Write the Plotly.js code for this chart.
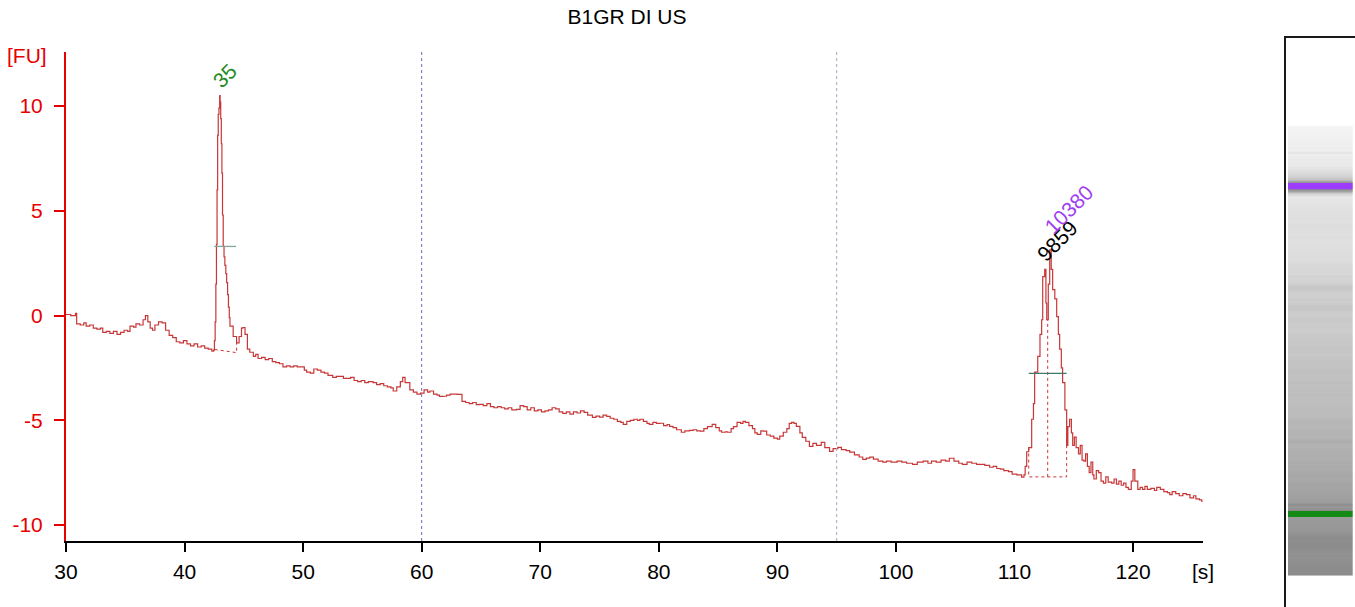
<!DOCTYPE html>
<html>
<head>
<meta charset="utf-8">
<script src="https://cdn.plot.ly/plotly-3.0.1.min.js"></script>
<style>
  html, body { margin: 0; padding: 0; background: #fff; }
  #plot { width: 1355px; height: 607px; }
</style>
</head>
<body>
<div id="plot"></div>
<script>
// Electropherogram trace: migration time [s] and fluorescence [FU].
const times = [
    30.0, 30.4, 30.8, 30.9, 31.2, 31.5, 31.7, 32.0, 32.3, 32.6, 32.9, 33.1, 33.4, 33.7, 34.0, 34.3,
    34.6, 34.9, 35.2, 35.4, 35.7, 35.9, 36.2, 36.5, 36.7, 36.9, 37.1, 37.3, 37.5, 37.8, 38.1, 38.4,
    38.7, 39.0, 39.3, 39.6, 39.9, 40.2, 40.5, 40.8, 41.1, 41.4, 41.7, 42.0, 42.3, 42.45,
    42.52, 42.58, 42.64, 42.69, 42.74, 42.79, 42.84, 42.9, 42.96, 43.0, 43.05, 43.1, 43.15, 43.2,
    43.26, 43.33, 43.4, 43.48, 43.55, 43.63, 43.7, 43.77, 43.83, 44.1, 44.39, 44.6, 44.8,
    44.92, 45.1, 45.3, 45.5, 45.8, 46.0, 46.2, 46.5, 46.8, 47.1, 47.4, 47.7, 48.0, 48.3, 48.6,
    48.9, 49.2, 49.5, 49.8, 50.1, 50.3, 50.6, 50.9, 51.2, 51.5, 51.8, 52.1, 52.5, 52.8, 53.1,
    53.4, 53.7, 54.0, 54.3, 54.6, 54.9, 55.2, 55.5, 55.9, 56.2, 56.5, 56.8, 57.1, 57.4, 57.6,
    57.9, 58.2, 58.4, 58.6, 59.0, 59.3, 59.6, 59.9, 60.2, 60.5, 60.7, 61.0, 61.3, 61.5, 61.8,
    62.1, 62.4, 62.7, 63.0, 63.4, 63.7, 64.0, 64.3, 64.6, 64.9, 65.2, 65.5, 65.8, 66.1, 66.4,
    66.7, 67.0, 67.3, 67.6, 68.0, 68.3, 68.6, 68.9, 69.2, 69.5, 69.8, 70.1, 70.4, 70.7, 71.0,
    71.3, 71.6, 71.9, 72.2, 72.5, 72.8, 73.1, 73.4, 73.7, 74.0, 74.4, 74.7, 75.0, 75.3, 75.6,
    75.9, 76.2, 76.5, 76.8, 77.0, 77.3, 77.6, 77.9, 78.2, 78.4, 78.7, 79.0, 79.2, 79.5, 79.8,
    80.1, 80.4, 80.7, 80.9, 81.2, 81.5, 81.9, 82.2, 82.6, 82.9, 83.2, 83.5, 83.8, 84.1, 84.5,
    84.8, 85.1, 85.3, 85.6, 85.8, 86.1, 86.3, 86.6, 86.9, 87.1, 87.3, 87.6, 87.9, 88.1, 88.3,
    88.6, 88.8, 89.1, 89.4, 89.7, 90.0, 90.2, 90.5, 90.8, 91.0, 91.2, 91.4, 91.6, 91.9, 92.1,
    92.4, 92.7, 93.0, 93.3, 93.7, 94.0, 94.4, 94.7, 95.1, 95.4, 95.8, 96.1, 96.5, 96.9, 97.2,
    97.5, 97.8, 98.1, 98.5, 98.9, 99.2, 99.6, 100.1, 100.5, 100.9, 101.4, 101.8, 102.3, 102.7,
    103.0, 103.4, 103.8, 104.2, 104.5, 104.9, 105.3, 105.6, 106.0, 106.4, 106.8, 107.1, 107.5,
    107.9, 108.2, 108.5, 108.8, 109.1, 109.5, 109.8, 110.2, 110.6, 110.8, 110.9,
    111.03, 111.2, 111.45, 111.6, 111.7, 111.96, 112.15, 112.29, 112.38, 112.55, 112.65, 112.72,
    112.85, 112.97, 113.1, 113.22, 113.4, 113.56, 113.7, 113.81, 113.95, 114.06, 114.25, 114.4,
    114.5, 114.65, 114.8, 114.91, 115.05, 115.2, 115.4, 115.55, 115.7, 115.85, 116.0, 116.15,
    116.3, 116.45, 116.6, 116.7, 116.9, 117.1, 117.3, 117.5, 117.7, 117.9, 118.2, 118.4, 118.6,
    118.8, 119.0, 119.2, 119.4, 119.6, 119.85, 120.0, 120.15, 120.4, 120.6, 120.8, 121.0, 121.2,
    121.5, 121.8, 122.0, 122.3, 122.6, 122.9, 123.1, 123.3, 123.6, 123.9, 124.2, 124.5, 124.8,
    125.1, 125.3, 125.6, 125.8,
];
const fluorescence = [
    0.05, 0.0, 0.1, -0.4, -0.45, -0.35, -0.5, -0.45, -0.6, -0.65, -0.6, -0.8, -0.75, -0.85, -0.75, -0.9,
    -0.8, -0.7, -0.75, -0.5, -0.55, -0.4, -0.45, -0.2, 0.0, -0.3, -0.6, -0.7, -0.45, -0.3, -0.35, -0.7,
    -0.95, -1.05, -1.25, -1.3, -1.2, -1.35, -1.45, -1.35, -1.5, -1.45, -1.55, -1.6, -1.7, -1.65,
    -1.2, -0.3, 1.5, 3.4, 6.0, 8.6, 9.6, 9.9, 10.5, 10.2, 9.4, 8.2, 6.8, 4.8,
    3.3, 2.8, 2.4, 2.0, 1.57, 1.0, 0.4, -0.1, -0.5, -1.0, -1.3, -1.0, -0.6,
    -0.57, -0.9, -1.6, -1.75, -1.95, -1.85, -2.05, -2.0, -2.1, -2.05, -2.2, -2.25, -2.3, -2.45, -2.4,
    -2.45, -2.4, -2.45, -2.45, -2.6, -2.7, -2.75, -2.55, -2.6, -2.7, -2.75, -2.85, -2.95, -2.9, -2.9,
    -3.0, -3.0, -2.95, -3.1, -3.15, -3.1, -3.2, -3.15, -3.2, -3.3, -3.25, -3.35, -3.4, -3.45, -3.6,
    -3.4, -3.15, -2.95, -3.2, -3.55, -3.65, -3.75, -3.7, -3.55, -3.65, -3.6, -3.75, -3.8, -3.86, -3.85,
    -3.8, -3.75, -3.75, -3.76, -4.1, -4.15, -4.2, -4.15, -4.25, -4.24, -4.3, -4.2, -4.35, -4.4, -4.35,
    -4.4, -4.45, -4.4, -4.5, -4.48, -4.3, -4.35, -4.5, -4.4, -4.55, -4.5, -4.6, -4.55, -4.5, -4.4,
    -4.45, -4.6, -4.67, -4.6, -4.7, -4.6, -4.65, -4.55, -4.62, -4.75, -4.86, -4.8, -4.85, -4.75, -4.81,
    -4.9, -4.95, -5.05, -5.1, -5.19, -5.05, -5.0, -4.95, -5.0, -4.95, -5.05, -5.15, -5.19, -5.1, -5.15,
    -5.14, -5.25, -5.2, -5.29, -5.35, -5.45, -5.57, -5.5, -5.48, -5.45, -5.5, -5.52, -5.4, -5.3, -5.19,
    -5.35, -5.5, -5.57, -5.55, -5.57, -5.4, -5.3, -5.1, -5.15, -5.05, -5.1, -5.25, -5.4, -5.6, -5.67,
    -5.5, -5.52, -5.7, -5.75, -5.85, -5.9, -5.75, -5.57, -5.4, -5.15, -5.1, -5.15, -5.29, -5.6, -5.81,
    -6.0, -6.24, -6.1, -6.2, -6.05, -6.3, -6.48, -6.35, -6.29, -6.4, -6.45, -6.52, -6.65, -6.75, -6.86,
    -6.8, -6.76, -6.85, -6.95, -7.0, -6.95, -7.0, -6.95, -7.0, -7.05, -7.1, -7.0, -6.95, -7.05,
    -6.95, -7.0, -6.9, -6.95, -6.81, -6.95, -7.05, -7.1, -7.0, -7.05, -7.1, -7.1, -7.15,
    -7.24, -7.2, -7.3, -7.33, -7.4, -7.45, -7.57, -7.6, -7.71, -7.6, -7.2,
    -6.5, -6.3, -4.95, -4.2, -2.7, -1.95, -0.9, -0.2, 1.86, 2.2, 0.6, -0.2,
    1.5, 3.14, 2.2, 1.24, 0.8, -0.05, -0.9, -1.6, -2.5, -3.2, -4.5, -6.2,
    -5.3, -4.95, -5.6, -6.2, -5.8, -6.3, -6.6, -6.2, -6.9, -6.95, -6.6, -7.2,
    -7.5, -7.0, -7.6, -7.8, -7.4, -7.5, -7.9, -8.0, -7.7, -7.95, -8.0, -7.8, -8.05,
    -7.9, -8.1, -8.0, -8.2, -8.3, -7.9, -7.35, -7.9, -8.3, -8.2, -8.3, -8.15, -8.3,
    -8.25, -8.35, -8.2, -8.3, -8.4, -8.45, -8.55, -8.4, -8.5, -8.6, -8.5, -8.55, -8.7,
    -8.6, -8.75, -8.8, -8.9,
];

// Peaks: lower marker (35) and upper marker (10380) with the 9859 call.
const peakTimes = [42.98, 112.97];
const peakHeights = [10.5, 3.14];
const peakStart = [42.5, 111.2];
const peakEnd = [44.35, 114.4];
const peakHalfLevel = [3.3, -2.76];

// Dotted baselines under the peaks.
const leftBaseX = [42.55, 44.39, 44.39];
const leftBaseY = [-1.62, -1.77, -1.3];
const rightBaseX = [111.2, 111.2, 114.4, 114.4, null, 112.8, 112.8];
const rightBaseY = [-6.3, -7.7, -7.7, -5.0, null, -7.7, -0.2];

const xTicks = [30, 40, 50, 60, 70, 80, 90, 100, 110, 120];
const yTicks = [-10, -5, 0, 5, 10];
const yTickText = ['-10', '-5', '0', '5', '10'];
const markerLines = [60, 95];

const red = '#e60000';
const traceRed = '#c83737';
const fontFamily = '"Liberation Sans", Arial, sans-serif';

// Pixel frame of the reference, turned into paper fractions.
const W = 1355, H = 607;
const px = v => v / W;
const py = v => 1 - v / H;

const data = [
    {
        type: 'scatter', mode: 'lines', x: times, y: fluorescence,
        line: { color: traceRed, width: 1.2, shape: 'hv' },
        hoverinfo: 'x+y',
    },
    {
        type: 'scatter', mode: 'lines', x: leftBaseX, y: leftBaseY,
        line: { color: traceRed, width: 1, dash: 'dot' }, hoverinfo: 'skip',
    },
    {
        type: 'scatter', mode: 'lines', x: rightBaseX, y: rightBaseY,
        line: { color: traceRed, width: 1, dash: 'dot' }, hoverinfo: 'skip', connectgaps: false,
    },
    ...peakStart.map((start, i) => ({
        type: 'scatter', mode: 'lines',
        x: [start, peakEnd[i]], y: [peakHalfLevel[i], peakHalfLevel[i]],
        line: { color: i === 0 ? '#7fa89a' : '#3d7a6a', width: 1.3 }, hoverinfo: 'skip',
    })),
    // Gel lane, shaded from the same trace.
    {
        type: 'heatmap', x: [0], y: times, z: fluorescence.map(v => [v]),
        xaxis: 'x2', yaxis: 'y2', zmin: -9, zmax: -0.4, showscale: false, hoverinfo: 'skip',
        colorscale: [[0, 'rgb(248,248,248)'], [1, 'rgb(140,140,140)']],
    },
];

const shapes = [
    ...markerLines.map((x, i) => ({
        type: 'line', xref: 'x', yref: 'y domain', x0: x, x1: x, y0: 0, y1: 1,
        line: { color: i === 0 ? '#6a6ab8' : '#aaa6c4', width: 1, dash: 'dot' },
    })),
    // Gel bands for the two markers.
    ...peakTimes.map((t, i) => ({
        type: 'rect', xref: 'x2', yref: 'y2', x0: -0.5, x1: 0.5, y0: t - 0.65, y1: t + 0.65,
        line: { width: 0 }, fillcolor: i === 0 ? '#138a13' : '#9b3cff',
    })),
    // Gel frame.
    { type: 'line', xref: 'paper', yref: 'paper', x0: px(1285), x1: px(1285), y0: 0, y1: py(37), line: { color: '#1a1a1a', width: 2 } },
    { type: 'line', xref: 'paper', yref: 'paper', x0: px(1284), x1: 1, y0: py(37), y1: py(37), line: { color: '#1a1a1a', width: 2 } },
];

const peakLabels = [
    { text: '35', x: peakTimes[0], y: peakHeights[0], color: '#1f8c1f', xshift: 5, yshift: 20 },
    { text: '9859', x: peakTimes[1], y: peakHeights[1], color: '#000000', xshift: 8, yshift: 9 },
    { text: '10380', x: peakTimes[1], y: peakHeights[1], color: '#a040f0', xshift: 19, yshift: 40 },
];

const annotations = [
    ...peakLabels.map(({ text, x, y, color, xshift, yshift }) => ({
        text, x, y, xref: 'x', yref: 'y', xshift, yshift, textangle: -45, showarrow: false,
        xanchor: 'center', yanchor: 'middle', font: { color, size: 21, family: fontFamily },
    })),
    { text: '[FU]', xref: 'paper', yref: 'paper', x: px(27), y: py(56), showarrow: false, xanchor: 'center', yanchor: 'middle', font: { color: red, size: 21 } },
    { text: '[s]', xref: 'paper', yref: 'paper', x: px(1203), y: py(571), showarrow: false, xanchor: 'center', yanchor: 'middle', font: { color: '#000', size: 21 } },
];

const layout = {
    width: W,
    height: H,
    margin: { l: 0, r: 0, t: 0, b: 0 },
    paper_bgcolor: '#fff',
    plot_bgcolor: '#fff',
    showlegend: false,
    font: { family: fontFamily, size: 21, color: '#000' },
    title: { text: 'B1GR DI US', x: px(627), xanchor: 'center', y: py(17), yanchor: 'middle', font: { size: 21 } },
    xaxis: {
        domain: [px(66), px(1203)],
        range: [30, 125.9],
        tickvals: xTicks,
        ticks: 'outside', ticklen: 9, tickwidth: 2, tickcolor: '#000',
        showline: true, linecolor: '#000', linewidth: 2,
        showgrid: false, zeroline: false, ticklabelstandoff: 2,
        fixedrange: true,
    },
    yaxis: {
        domain: [1 - 541 / H, 1 - 52 / H],
        range: [-10.76, 12.58],
        tickvals: yTicks, ticktext: yTickText,
        ticks: 'outside', ticklen: 10, tickwidth: 2, tickcolor: red,
        showline: true, linecolor: red, linewidth: 2,
        tickfont: { color: red },
        showgrid: false, zeroline: false, ticklabelstandoff: 7,
        fixedrange: true,
    },
    xaxis2: {
        domain: [px(1288), px(1352.7)], range: [-0.5, 0.5], anchor: 'y2',
        visible: false, fixedrange: true,
    },
    yaxis2: {
        domain: [1 - 576 / H, 1 - 37 / H], range: [29.75, 144.8], anchor: 'x2',
        visible: false, fixedrange: true,
    },
    shapes,
    annotations,
};

Plotly.newPlot('plot', data, layout, { displayModeBar: false, staticPlot: true });
</script>
</body>
</html>
